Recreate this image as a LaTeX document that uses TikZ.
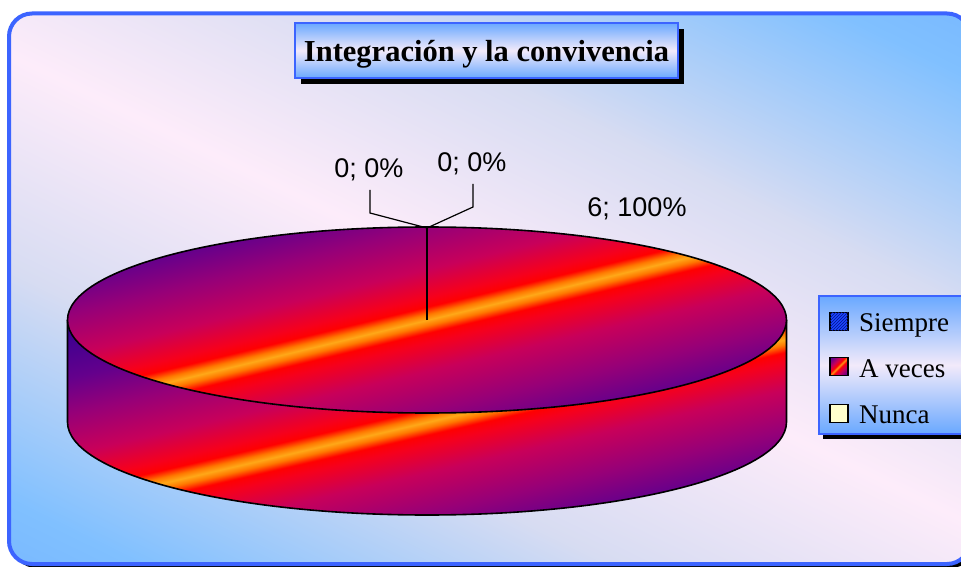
\documentclass[tikz,border=0pt]{standalone}
\usepackage{fontspec}
\setmainfont{Liberation Serif}
\newfontfamily\arialfont{Liberation Sans}
\usetikzlibrary{patterns,shadows}

\definecolor{framblue}{RGB}{60,100,255}
\definecolor{bgdeep}{RGB}{96,160,255}
\definecolor{bgblue}{RGB}{128,192,255}
\definecolor{bglav}{RGB}{215,220,242}
\definecolor{bgpink}{RGB}{253,236,250}
\definecolor{boxblue}{RGB}{105,168,255}
\definecolor{boxpink}{RGB}{242,234,250}
\definecolor{pyel}{RGB}{255,168,24}
\definecolor{pora}{RGB}{255,120,0}
\definecolor{pred}{RGB}{255,0,0}
\definecolor{predb}{RGB}{246,0,28}
\definecolor{pcrim}{RGB}{200,0,90}
\definecolor{pmag}{RGB}{150,0,120}
\definecolor{ppur}{RGB}{100,0,140}
\definecolor{pind}{RGB}{55,0,145}
\definecolor{siemblue}{RGB}{30,70,255}
\definecolor{siemdark}{RGB}{0,20,140}
\definecolor{nuncayel}{RGB}{255,255,204}

\pgfdeclarehorizontalshading{bgshade}{100bp}{color(0bp)=(bgdeep); color(15.6bp)=(bgdeep); color(29.8bp)=(bgblue); color(40.3bp)=(bglav); color(50bp)=(bgpink); color(59.7bp)=(bglav); color(70.2bp)=(bgblue); color(84.4bp)=(bgdeep); color(100bp)=(bgdeep)}
\pgfdeclarehorizontalshading{pieshade}{100bp}{color(0bp)=(pind); color(38.54bp)=(pind); color(41.82bp)=(ppur); color(44.11bp)=(pmag); color(46.73bp)=(pcrim); color(48.56bp)=(predb); color(49.16bp)=(pred); color(49.64bp)=(pora); color(50bp)=(pyel); color(50.36bp)=(pora); color(50.84bp)=(pred); color(51.44bp)=(predb); color(53.27bp)=(pcrim); color(55.89bp)=(pmag); color(58.18bp)=(ppur); color(61.46bp)=(pind); color(100bp)=(pind)}
\pgfdeclarehorizontalshading{markshade}{100bp}{color(0bp)=(pind); color(20bp)=(ppur); color(35bp)=(pcrim); color(45bp)=(pred); color(50bp)=(pyel); color(55bp)=(pred); color(65bp)=(pcrim); color(80bp)=(ppur); color(100bp)=(pind)}

\begin{document}
\begin{tikzpicture}[x=1pt,y=1pt,
  boxshade/.style={top color=boxblue,bottom color=boxblue,middle color=boxpink,draw=framblue,line width=2pt},
  pieline/.style={black,line width=1.6pt},
  leader/.style={black,line width=1.2pt},
  lbl/.style={font=\arialfont\fontsize{27}{32}\selectfont,anchor=base,inner sep=0pt},
  legtxt/.style={font=\fontsize{27}{32}\selectfont,anchor=base west,inner sep=0pt},
  legmark/.style={draw=black,line width=1.5pt,minimum size=18pt,inner sep=0pt}]
\fill[white] (0,0) rectangle (961,566);
\useasboundingbox (0,0) rectangle (961,566);

\fill[black,rounded corners=23pt] (13,-2) rectangle (974,548.5);
\begin{scope}
  \clip[rounded corners=23pt] (9,2) rectangle (970,552.5);
  \shade[shading=bgshade,shading angle=64] (-10.5,-223) rectangle (989.5,777);
\end{scope}
\draw[framblue,line width=4pt,rounded corners=23pt] (9,2) rectangle (970,552.5);

\coordinate (pc) at (427,246);
\begin{scope}
  \clip (67.5,246) -- (67.5,144) arc[start angle=180,end angle=360,x radius=359.5,y radius=93]
    -- (786.5,246) arc[start angle=0,end angle=-180,x radius=359.5,y radius=93] -- cycle;
  \shade[shading=pieshade,shading angle=103] (47,-236) rectangle (807,524);
\end{scope}
\draw[pieline] (67.5,246) -- (67.5,144) arc[start angle=180,end angle=360,x radius=359.5,y radius=93]
  -- (786.5,246);
\begin{scope}
  \clip (pc) ellipse [x radius=359.5,y radius=93];
  \shade[shading=pieshade,shading angle=103.5] (47,-134) rectangle (807,626);
\end{scope}
\draw[pieline] (pc) ellipse [x radius=359.5,y radius=93];

\coordinate (ptop) at (427,338);
\coordinate (kneeA) at (370,353);
\coordinate (endA) at (370,376);
\coordinate (kneeB) at (473,359);
\coordinate (endB) at (473,382);
\draw[leader] (pc) -- (ptop);
\draw[leader] (ptop) -- (kneeA) -- (endA);
\draw[leader] (ptop) -- (kneeB) -- (endB);
\node[lbl] (lblA) at (369,388) {0; 0\%};
\node[lbl] (lblB) at (472,394) {0; 0\%};
\node[lbl] (lblC) at (637,349) {6; 100\%};

\node[boxshade,drop shadow={shadow xshift=6pt,shadow yshift=-6pt,fill=black,opacity=1},
  minimum width=383pt,minimum height=55pt,text height=22pt,text depth=0pt,
  font=\bfseries\fontsize{30.5}{36}\selectfont] (title) at (486.5,515.5) {Integración y la convivencia};

\node[boxshade,drop shadow={shadow xshift=4pt,shadow yshift=-5pt,fill=black,opacity=1},
  minimum width=156pt,minimum height=138pt] (legend) at (897,201) {};
\node[legmark,fill=siemblue,postaction={pattern=north east lines,pattern color=siemdark}] (mkA) at (839,244.5) {};
\node[legmark,shade,shading=markshade,shading angle=135] (mkB) at (839,199.5) {};
\node[legmark,fill=nuncayel] (mkC) at (839,152.5) {};
\node[legtxt] (txA) at (859,235) {Siempre};
\node[legtxt] (txB) at (859,189) {A veces};
\node[legtxt] (txC) at (859,143) {Nunca};
\end{tikzpicture}
\end{document}
